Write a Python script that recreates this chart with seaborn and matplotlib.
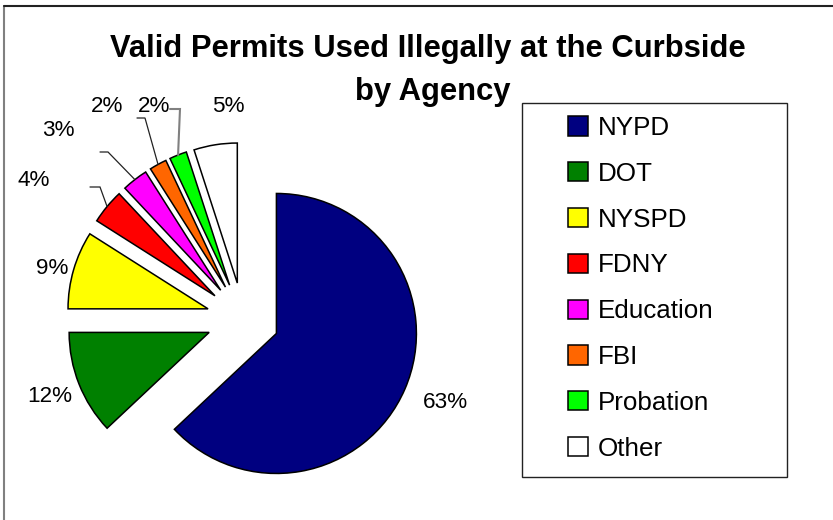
import math
import matplotlib.pyplot as plt
import seaborn as sns
from matplotlib.lines import Line2D
from matplotlib.patches import Rectangle

# Data
agencies = ['NYPD', 'DOT', 'NYSPD', 'FDNY', 'Education', 'FBI', 'Probation', 'Other']
shares = [63, 12, 9, 4, 3, 2, 2, 5]
colours = ['#000080', '#008000', '#FFFF00', '#FF0000', '#FF00FF', '#FF6600', '#00FF00', '#FFFFFF']
title_lines = ['Valid Permits Used Illegally at the Curbside', 'by Agency']

# Layout (image pixels, origin top-left)
W, H = 833, 520
label_pos = [(445, 402), (50, 397), (52, 268), (34, 181), (58, 131), (107, 107), (154, 107), (228, 107)]
# leader lines for the thin slices: (x start, x elbow, y)
leaders = [None, None, None, (90, 100, 187), (100, 108, 152), (137, 145, 118), (170, 180, 109), None]
leader_col = [None, None, None, '#222222', '#222222', '#222222', '#808080', None]

sns.set_theme(style='white')
plt.rcParams['font.family'] = ['Liberation Sans', 'DejaVu Sans']
plt.rcParams['text.color'] = 'black'

fig = plt.figure(figsize=(W / 100, H / 100), dpi=100)
ax = fig.add_axes([0, 0, 1, 1])

R = 140
wedges, _ = ax.pie(shares, colors=colours, startangle=90, counterclock=False,
                   explode=[0.26 * R] * len(shares), radius=R, center=(243, H - 319),
                   wedgeprops=dict(edgecolor='black', linewidth=1.1))
ax.set_xlim(0, W)
ax.set_ylim(0, H)
ax.set_aspect('auto')
ax.axis('off')

for i, w in enumerate(wedges):
    lx, ly = label_pos[i]
    ax.text(lx, H - ly, f'{shares[i]}%', ha='center', va='center', fontsize=16.2, color='black')
    if leaders[i] is not None:
        tm = math.radians((w.theta1 + w.theta2) / 2)
        px = w.center[0] + R * math.cos(tm)
        py = w.center[1] + R * math.sin(tm)
        x0, x1, y = leaders[i]
        ax.plot([x0, x1, px], [H - y, H - y, py], color=leader_col[i],
                lw=0.9 if i < 6 else 1.5, solid_joinstyle='miter')

# legend frame and entries
ax.add_patch(Rectangle((522, H - 477), 265, 374, fill=False, edgecolor='#222222', lw=1.0, clip_on=False))
ax.legend(wedges, agencies, loc='upper left', bbox_to_anchor=(568 / W, 1 - 116 / H),
          bbox_transform=fig.transFigure, frameon=False, fontsize=18.7,
          handlelength=0.76, handleheight=0.76, handletextpad=0.38,
          labelspacing=0.84, borderpad=0, borderaxespad=0)

# title, one text per line
fig.text(428 / W, 1 - 57 / H, title_lines[0], ha='center', va='baseline',
         fontsize=22.3, fontweight='bold', color='black')
fig.text(433 / W, 1 - 100 / H, title_lines[1], ha='center', va='baseline',
         fontsize=22.3, fontweight='bold', color='black')

# chart area border (left and top visible)
fig.add_artist(Line2D([4 / W, 4 / W], [0, 1 - 6 / H], color='#808080', lw=1.5, transform=fig.transFigure))
fig.add_artist(Line2D([4 / W, 1], [1 - 6 / H, 1 - 6 / H], color='#222222', lw=1.5, transform=fig.transFigure))

fig.savefig('out.png', dpi=100)
